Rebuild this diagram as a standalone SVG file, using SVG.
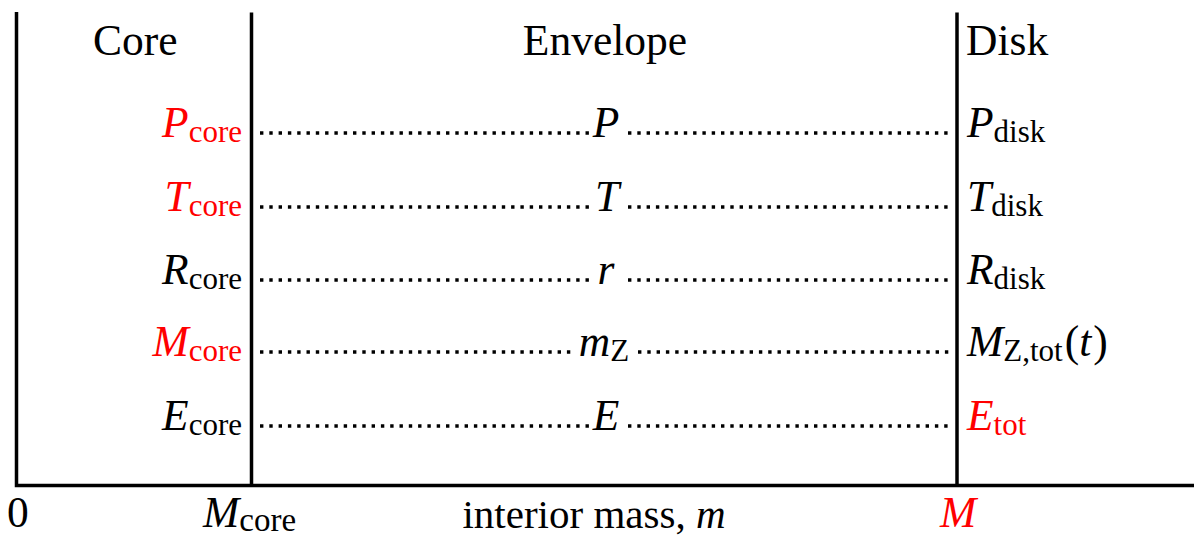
<svg xmlns="http://www.w3.org/2000/svg" width="1200" height="547" viewBox="0 0 1200 547">
<style>
text{font-family:'Liberation Serif','Times New Roman',serif;font-size:43.5px;fill:#000}
.i{font-style:italic}
.s{font-size:31px}
.r{fill:#ff0000}
.ax{stroke:#000;stroke-width:3.5;fill:none}
.dot{stroke:#000;stroke-width:3.4;stroke-dasharray:3.4 5.9;fill:none}
</style>
<rect width="1200" height="547" fill="#fff"/>
<g id="axes">
<path class="ax" d="M16.5,12 V485.5 H1194"/>
<path class="ax" d="M251.5,12.5 V485.5"/>
<path class="ax" d="M957,12.5 V485.5"/>
</g>
<g id="connectors">
<path class="dot" d="M260,133 H592 M628,133 H952"/>
<path class="dot" d="M260,207 H592 M628,207 H952"/>
<path class="dot" d="M260,280 H592 M628,280 H952"/>
<path class="dot" d="M260,352 H574 M638,352 H952"/>
<path class="dot" d="M260,426 H592 M628,426 H952"/>
</g>
<g id="core">
<text x="93" y="55">Core</text>
<text x="242" y="137" text-anchor="end" class="r"><tspan class="i">P</tspan><tspan class="s" dy="5">core</tspan></text>
<text x="242" y="211" text-anchor="end" class="r"><tspan class="i">T</tspan><tspan class="s" dy="5">core</tspan></text>
<text x="242" y="284" text-anchor="end"><tspan class="i">R</tspan><tspan class="s" dy="5">core</tspan></text>
<text x="242" y="356" text-anchor="end" class="r"><tspan class="i">M</tspan><tspan class="s" dy="5">core</tspan></text>
<text x="242" y="430" text-anchor="end"><tspan class="i">E</tspan><tspan class="s" dy="5">core</tspan></text>
</g>
<g id="envelope">
<text x="605" y="55" text-anchor="middle">Envelope</text>
<text x="606" y="137" text-anchor="middle" class="i">P</text>
<text x="607" y="211" text-anchor="middle" class="i">T</text>
<text x="606" y="284" text-anchor="middle" class="i">r</text>
<text x="604" y="356" text-anchor="middle"><tspan class="i">m</tspan><tspan class="s" dy="5">Z</tspan></text>
<text x="606" y="430" text-anchor="middle" class="i">E</text>
</g>
<g id="disk">
<text x="966" y="55">Disk</text>
<text x="967" y="137"><tspan class="i">P</tspan><tspan class="s" dy="5">disk</tspan></text>
<text x="967" y="211"><tspan class="i">T</tspan><tspan class="s" dy="5">disk</tspan></text>
<text x="967" y="284"><tspan class="i">R</tspan><tspan class="s" dy="5">disk</tspan></text>
<text x="967" y="356"><tspan class="i">M</tspan><tspan class="s" dy="5">Z,tot</tspan><tspan dy="-5" dx="2">(</tspan><tspan class="i">t</tspan><tspan dx="2">)</tspan></text>
<text x="967" y="430" class="r"><tspan class="i">E</tspan><tspan class="s" dy="5">tot</tspan></text>
</g>
<g id="axis-labels">
<text x="7" y="527">0</text>
<text x="203" y="527"><tspan class="i">M</tspan><tspan class="s" dy="4" style="font-size:33px">core</tspan></text>
<text x="594" y="528" text-anchor="middle" style="font-size:41px">interior mass, <tspan class="i">m</tspan></text>
<text x="940" y="527" class="i r">M</text>
</g>
</svg>
